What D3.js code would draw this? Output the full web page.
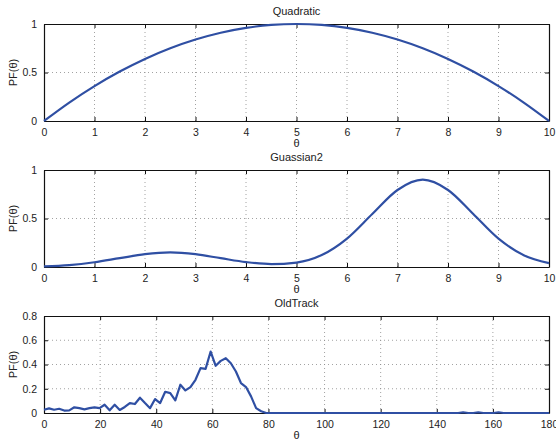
<!DOCTYPE html>
<html>
<head>
<meta charset="utf-8">
<script src="https://cdn.jsdelivr.net/npm/d3@7"></script>
<style>
  body { margin: 0; background: #fff; }
  text { font-family: "Liberation Sans", Arial, sans-serif; fill: #222; }
</style>
</head>
<body>
<div id="chart"></div>
<script>
/**
 * DATA
 * */
const thetaSmooth = [0, 0.5, 1, 1.5, 2, 2.5, 3, 3.5, 4, 4.5, 5, 5.5, 6, 6.5, 7, 7.5, 8, 8.5, 9, 9.5, 10];
const quadraticPF = [0, 0.19, 0.36, 0.51, 0.64, 0.75, 0.84, 0.91, 0.96, 0.99, 1, 0.99, 0.96, 0.91, 0.84, 0.75, 0.64, 0.51, 0.36, 0.19, 0];
const gaussianPF = [0.007, 0.02, 0.049, 0.091, 0.132, 0.15, 0.132, 0.091, 0.051, 0.03, 0.046, 0.123, 0.293, 0.546, 0.794, 0.9, 0.794, 0.546, 0.292, 0.122, 0.04];

// OldTrack sampled every 1.8 deg from 0 to 180
const trackStep = 1.8;
const trackPF = [
  0.027, 0.038, 0.027, 0.035, 0.02, 0.022, 0.047, 0.04, 0.03, 0.04,
  0.047, 0.04, 0.068, 0.022, 0.068, 0.025, 0.05, 0.082, 0.074, 0.126,
  0.082, 0.04, 0.115, 0.082, 0.175, 0.164, 0.104, 0.233, 0.186, 0.214,
  0.274, 0.37, 0.364, 0.507, 0.389, 0.43, 0.452, 0.41, 0.342, 0.247,
  0.214, 0.137, 0.04, 0.014, 0, 0, 0, 0, 0, 0,
  0, 0, 0, 0, 0, 0, 0, 0, 0, 0,
  0, 0, 0, 0, 0, 0, 0, 0, 0, 0,
  0, 0, 0, 0, 0, 0, 0, 0, 0, 0,
  0, 0, 0, 0.006, 0, 0, 0.006, 0, 0, 0,
  0.006, 0, 0, 0, 0, 0, 0, 0, 0, 0,
  0
];
const trackTheta = trackPF.map((d, i) => i * trackStep);

const smoothTicksX = [0, 1, 2, 3, 4, 5, 6, 7, 8, 9, 10];
const unitTicksY = [0, 0.5, 1];
const trackTicksX = [0, 20, 40, 60, 80, 100, 120, 140, 160, 180];
const trackTicksY = [0, 0.2, 0.4, 0.6, 0.8];

/**
 * CONSTANTS
 * */
const width = 556,
  height = 443,
  left = 44,
  right = 549,
  lineColor = "#2f4fa3";

const svg = d3.select("#chart")
  .append("svg")
  .attr("width", width)
  .attr("height", height);

const panels = [
  { title: "Quadratic", top: 24, bottom: 121, xs: thetaSmooth, ys: quadraticPF,
    xDomain: [0, 10], yDomain: [0, 1], xTicks: smoothTicksX, yTicks: unitTicksY, curve: d3.curveMonotoneX },
  { title: "Guassian2", top: 170, bottom: 267, xs: thetaSmooth, ys: gaussianPF,
    xDomain: [0, 10], yDomain: [0, 1], xTicks: smoothTicksX, yTicks: unitTicksY, curve: d3.curveMonotoneX },
  { title: "OldTrack", top: 316, bottom: 413, xs: trackTheta, ys: trackPF,
    xDomain: [0, 180], yDomain: [0, 0.8], xTicks: trackTicksX, yTicks: trackTicksY, curve: d3.curveLinear }
];

panels.forEach(drawPanel);

function drawPanel(p) {
  const x = d3.scaleLinear().domain(p.xDomain).range([left, right]);
  const y = d3.scaleLinear().domain(p.yDomain).range([p.bottom, p.top]);
  const g = svg.append("g");

  // dotted grid
  g.selectAll(".vgrid")
    .data(p.xTicks.slice(1, -1))
    .join("line")
    .attr("x1", d => x(d)).attr("x2", d => x(d))
    .attr("y1", p.top).attr("y2", p.bottom)
    .attr("stroke", "#8a8a8a")
    .attr("stroke-width", 0.8)
    .attr("stroke-dasharray", "1,3");
  g.selectAll(".hgrid")
    .data(p.yTicks.slice(1, -1))
    .join("line")
    .attr("x1", left).attr("x2", right)
    .attr("y1", d => y(d)).attr("y2", d => y(d))
    .attr("stroke", "#8a8a8a")
    .attr("stroke-width", 0.8)
    .attr("stroke-dasharray", "1,3");

  // axes, ticks pointing inward like matlab
  const fmt = d => d3.format("")(+d.toFixed(2));
  const axes = [
    g.append("g").attr("transform", `translate(0,${p.bottom})`)
      .call(d3.axisBottom(x).tickValues(p.xTicks).tickSizeInner(-4).tickSizeOuter(0).tickPadding(8).tickFormat(fmt)),
    g.append("g").attr("transform", `translate(0,${p.top})`)
      .call(d3.axisTop(x).tickValues(p.xTicks).tickSizeInner(-4).tickSizeOuter(0).tickFormat("")),
    g.append("g").attr("transform", `translate(${left},0)`)
      .call(d3.axisLeft(y).tickValues(p.yTicks).tickSizeInner(-4).tickSizeOuter(0).tickPadding(7).tickFormat(fmt)),
    g.append("g").attr("transform", `translate(${right},0)`)
      .call(d3.axisRight(y).tickValues(p.yTicks).tickSizeInner(-4).tickSizeOuter(0).tickFormat(""))
  ];
  axes.forEach(a => {
    a.select(".domain").attr("stroke", "#111").attr("stroke-width", 1.2);
    a.selectAll(".tick line").attr("stroke", "#111");
    a.selectAll("text").style("font-size", "10.5px").attr("fill", "#222")
      .style("font-family", "'Liberation Sans', Arial, sans-serif");
  });

  // curve
  const line = d3.line()
    .x((d, i) => x(p.xs[i]))
    .y(d => y(d))
    .curve(p.curve);
  g.append("path")
    .datum(p.ys)
    .attr("fill", "none")
    .attr("stroke", lineColor)
    .attr("stroke-width", 2.2)
    .attr("stroke-linejoin", "round")
    .attr("d", line);

  // labels
  g.append("text")
    .attr("x", (left + right) / 2)
    .attr("y", p.top - 9)
    .attr("text-anchor", "middle")
    .style("font-size", "11px")
    .text(p.title);
  g.append("text")
    .attr("x", (left + right) / 2)
    .attr("y", p.bottom + 26)
    .attr("text-anchor", "middle")
    .style("font-size", "11px")
    .text("θ");
  g.append("text")
    .attr("transform", `translate(17,${(p.top + p.bottom) / 2}) rotate(-90)`)
    .attr("text-anchor", "middle")
    .style("font-size", "11px")
    .text("PF(θ)");
}
</script>
</body>
</html>
